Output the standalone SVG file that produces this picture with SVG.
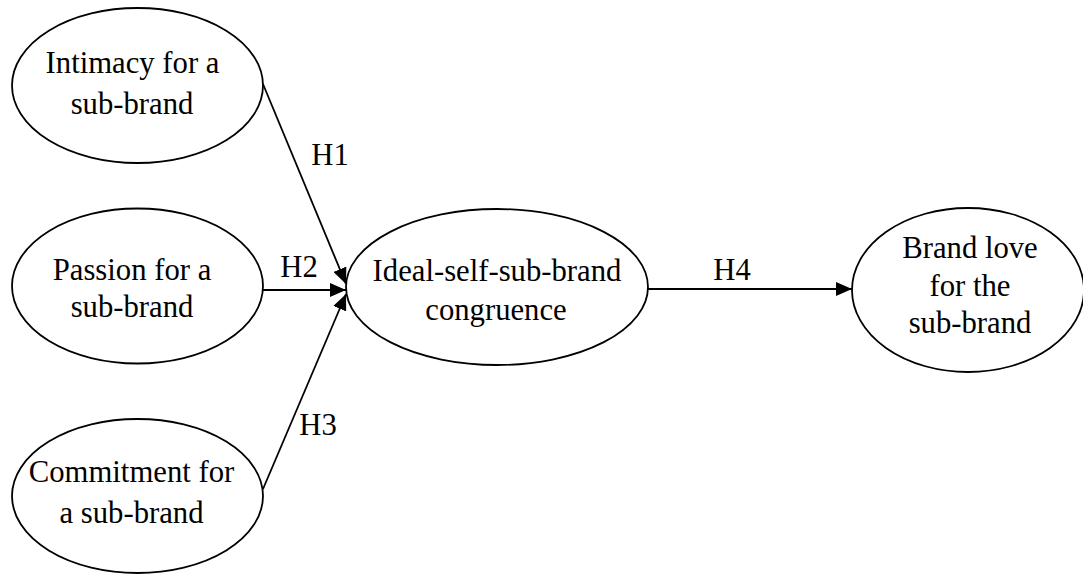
<svg xmlns="http://www.w3.org/2000/svg" width="1083" height="574" viewBox="0 0 1083 574">
<style>
.n{fill:#fff;stroke:#000;stroke-width:1.8}
.t{font-family:"Liberation Serif","Times New Roman",serif;font-size:30.7px;fill:#000;text-anchor:middle}
.c{stroke:#000;stroke-width:1.8;fill:none;marker-end:url(#ah)}
</style>
<defs>
<marker id="ah" viewBox="0 0 16 14" refX="16" refY="7" markerWidth="16" markerHeight="14" markerUnits="userSpaceOnUse" orient="auto">
<path d="M0,0 L16,7 L0,14 Z" fill="#000"/>
</marker>
</defs>
<rect width="1083" height="574" fill="#fff"/>
<g id="connectors">
<line class="c" x1="263" y1="84" x2="346" y2="284"/>
<line class="c" x1="263" y1="290" x2="346" y2="290"/>
<line class="c" x1="263" y1="489" x2="346" y2="294"/>
<line class="c" x1="647" y1="289" x2="852" y2="289"/>
<text class="t" x="330" y="165">H1</text>
<text class="t" x="299" y="277">H2</text>
<text class="t" x="318" y="435">H3</text>
<text class="t" x="732" y="280">H4</text>
</g>
<g id="intimacy">
<ellipse class="n" cx="137.5" cy="85.5" rx="125.5" ry="77.5"/>
<text class="t" x="132.5" y="73">Intimacy for a</text>
<text class="t" x="132" y="114">sub-brand</text>
</g>
<g id="passion">
<ellipse class="n" cx="137.5" cy="286" rx="125.5" ry="77.5"/>
<text class="t" x="132" y="280">Passion for a</text>
<text class="t" x="132" y="317">sub-brand</text>
</g>
<g id="commitment">
<ellipse class="n" cx="137.5" cy="496" rx="125.5" ry="77"/>
<text class="t" x="131.5" y="482">Commitment for</text>
<text class="t" x="131.5" y="523">a sub-brand</text>
</g>
<g id="congruence">
<ellipse class="n" cx="497" cy="287" rx="151" ry="78"/>
<text class="t" x="497" y="281">Ideal-self-sub-brand</text>
<text class="t" x="496" y="320">congruence</text>
</g>
<g id="brandlove">
<ellipse class="n" cx="968" cy="290" rx="116" ry="82"/>
<text class="t" x="970" y="258">Brand love</text>
<text class="t" x="970" y="296">for the</text>
<text class="t" x="970" y="333">sub-brand</text>
</g>
</svg>
